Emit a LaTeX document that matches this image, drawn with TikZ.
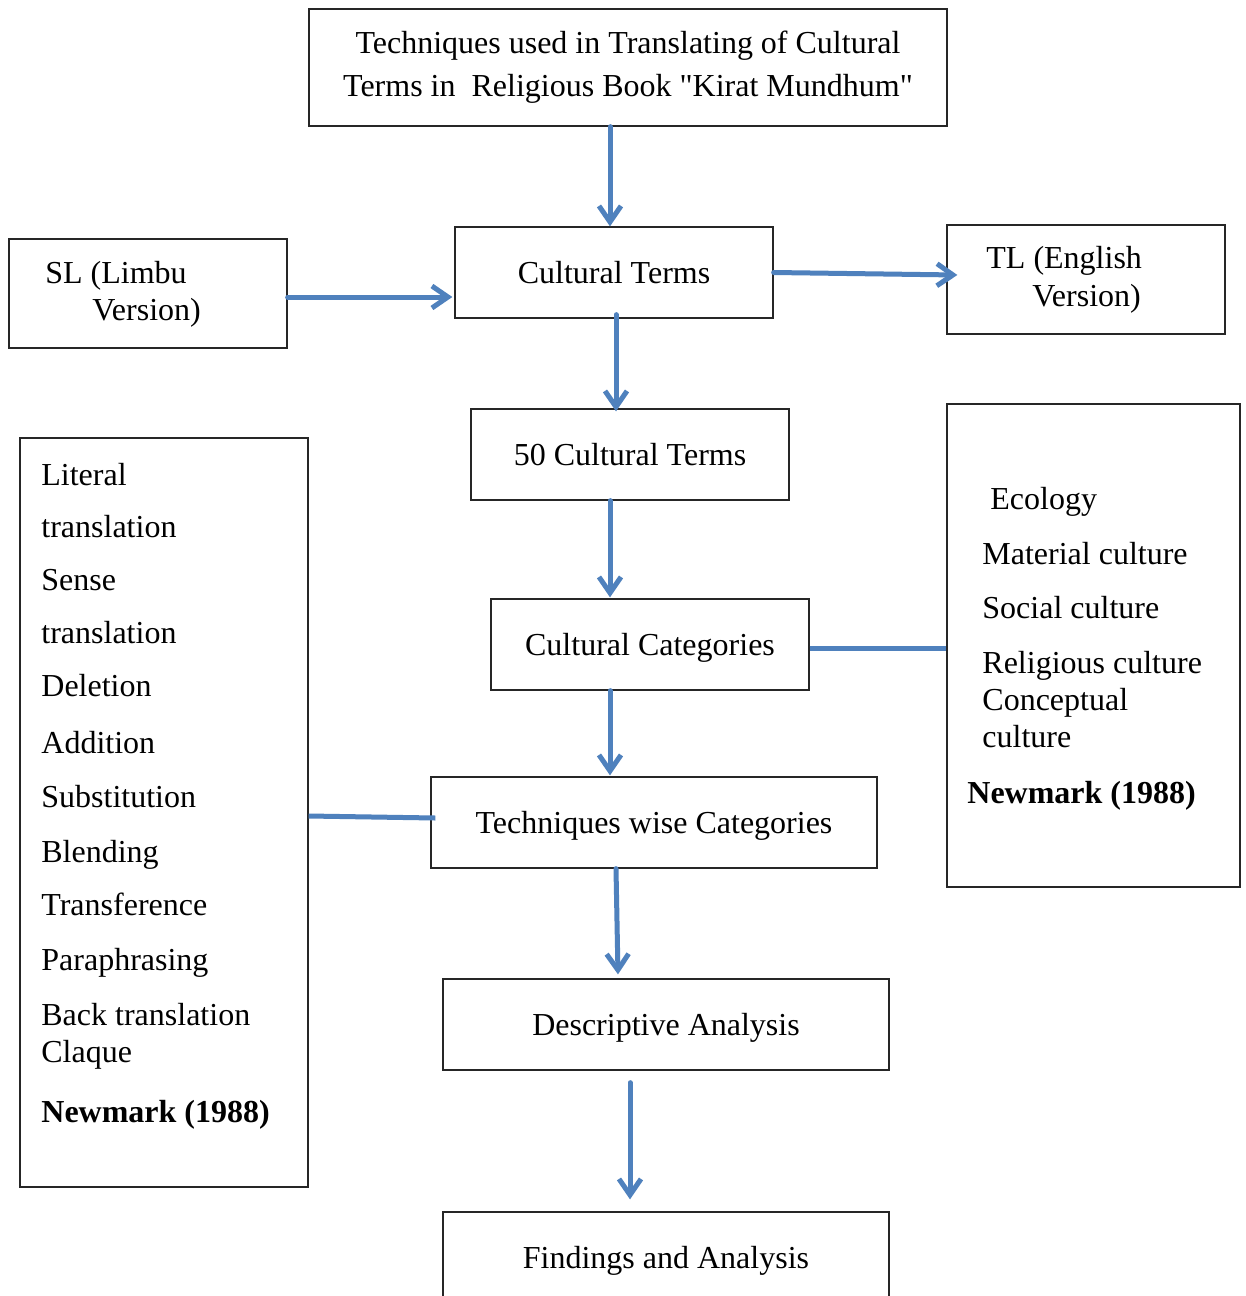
\documentclass[tikz,border=0pt]{standalone}
\usepackage{fontspec}
\setmainfont{Liberation Serif}
\newfontfamily\rawserif{Liberation Serif}
\usetikzlibrary{arrows.meta}
\definecolor{arrowblue}{RGB}{79,129,189}
\tikzset{
  box/.style={draw=black!85, line width=0.65pt, inner sep=0pt, font=\rawserif\fontsize{16}{21.5}\selectfont},
  flow/.style={box, minimum height=45.5pt, text height=12pt, text depth=1.4pt},
  item/.style={anchor=base west, inner sep=0pt, font=\fontsize{16}{18.5}\selectfont},
  arr/.style={draw=arrowblue, line width=2.5pt, line cap=round, -{Straight Barb[length=8pt,width=11pt]}},
  link/.style={draw=arrowblue, line width=2.5pt}
}
\begin{document}
\begin{tikzpicture}[x=0.5pt,y=-0.5pt]
\useasboundingbox (0,0) rectangle (1246,1296);
\fill[white] (0,0) rectangle (1246,1296);

% boxes
\node[box, minimum width=319pt, minimum height=58.5pt, align=center] (top) at (628,67.5)
  {Techniques used in Translating of Cultural\\Terms in\ \ Religious Book "Kirat Mundhum"};
\node[flow, minimum width=159pt] (ct) at (614,272.5) {Cultural Terms};
\node[box, minimum width=139pt, minimum height=54.5pt] (sl) at (148,293.5) {};
\node[box, minimum width=139pt, minimum height=54.5pt] (tl) at (1086,279.5) {};
\node[flow, minimum width=159pt] (fifty) at (630,454.5) {50 Cultural Terms};
\node[flow, minimum width=159pt] (cc) at (650,644.5) {Cultural Categories};
\node[flow, minimum width=223pt] (twc) at (654,822.5) {Techniques wise Categories};
\node[flow, minimum width=223pt] (da) at (666,1024.5) {Descriptive Analysis};
\node[flow, minimum width=223pt] (fa) at (666,1257.5) {Findings and Analysis};
\node[box, minimum width=146.5pt, minimum height=241.5pt] (right) at (1093.5,645.5) {};
\node[box, minimum width=144pt, minimum height=374.5pt] (left) at (164,812.5) {};

% SL / TL texts
\node[item] (sl1) at (45,283.5) {SL (Limbu};
\node[item] (sl2) at (92,320.5) {Version)};
\node[item] (tl1) at (986,268) {TL (English};
\node[item] (tl2) at (1032,306) {Version)};

% right list
\node[item] (r1) at (990,509.5) {Ecology};
\node[item] (r2) at (982,564) {Material culture};
\node[item] (r3) at (982,618.5) {Social culture};
\node[item] (r4) at (982,673.5) {Religious culture};
\node[item] (r5) at (982,710.5) {Conceptual};
\node[item] (r6) at (982,747.5) {culture};
\node[item, font=\fontsize{16}{18.5}\selectfont\bfseries] (r7) at (967,803.5) {Newmark (1988)};

% left list
\node[item] (l1) at (41,485.5) {Literal};
\node[item] (l2) at (41,537.5) {translation};
\node[item] (l3) at (41,590) {Sense};
\node[item] (l4) at (41,643.5) {translation};
\node[item] (l5) at (41,696) {Deletion};
\node[item] (l6) at (41,753.5) {Addition};
\node[item] (l7) at (41,807) {Substitution};
\node[item] (l8) at (41,862.5) {Blending};
\node[item] (l9) at (41,915) {Transference};
\node[item] (l10) at (41,970) {Paraphrasing};
\node[item] (l11) at (41,1025) {Back translation};
\node[item] (l12) at (41,1062) {Claque};
\node[item, font=\fontsize{16}{18.5}\selectfont\bfseries] (l13) at (41,1122) {Newmark (1988)};

% connectors
\draw[arr] ([xshift=-9pt]top.south) -- ([xshift=-2pt]ct.north);
\draw[arr] ([yshift=-1.75pt]sl.east) -- ([xshift=-1pt,yshift=-12.25pt]ct.west);
\draw[arr] (ct.east) -- ([xshift=5.5pt,yshift=2.25pt]tl.west);
\draw[arr] ([xshift=1pt,yshift=2pt]ct.south) -- ([xshift=-7pt,yshift=-1.5pt]fifty.north);
\draw[arr] ([xshift=-10pt]fifty.south) -- ([xshift=-20pt,yshift=0.5pt]cc.north);
\draw[link] ([yshift=-1.75pt]cc.east) -- ([yshift=-1.25pt]right.west);
\draw[arr] ([xshift=-20pt]cc.south) -- ([xshift=-22pt,yshift=0.5pt]twc.north);
\draw[link] ([yshift=-1.75pt]left.east) -- ([xshift=2.5pt,yshift=2.25pt]twc.west);
\draw[arr] ([xshift=-19pt]twc.south) -- ([xshift=-24pt,yshift=2pt]da.north);
\draw[arr] ([xshift=-18pt,yshift=-6pt]da.south) -- ([xshift=-18pt,yshift=6pt]fa.north);
\end{tikzpicture}
\end{document}
